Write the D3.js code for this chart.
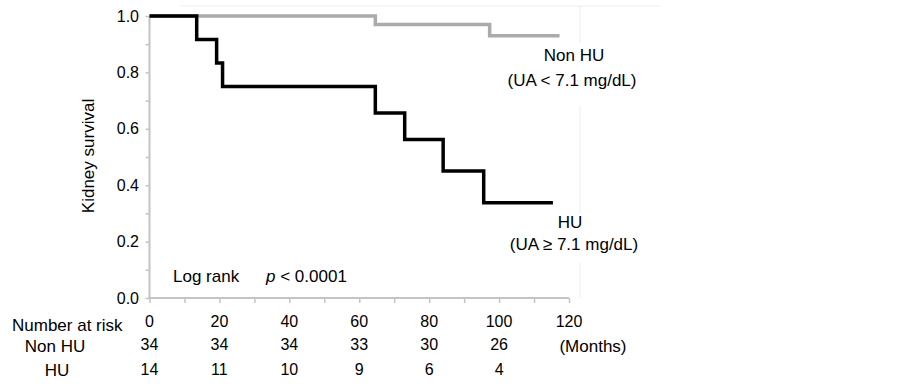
<!DOCTYPE html>
<html>
<head>
<meta charset="utf-8">
<script src="https://cdn.jsdelivr.net/npm/d3@7"></script>
<style>
  html, body { margin: 0; padding: 0; background: #fff; }
  svg { display: block; font-family: "Liberation Sans", Arial, sans-serif; }
</style>
</head>
<body>
<div class="km-container"></div>
<script>
// courbes de survie (mois, survie)
const huMonths = [0, 13.5, 19.2, 20.9, 64.6, 73.0, 84.0, 95.6, 115.4];
const huSurvival = [1.0, 0.917, 0.833, 0.75, 0.656, 0.5625, 0.45, 0.3375, 0.3375];
const nonHuMonths = [0, 64.6, 97.3, 117.3];
const nonHuSurvival = [1.0, 0.97, 0.93, 0.93];

// tableau "Number at risk"
const riskMonths = [0, 20, 40, 60, 80, 100];
const riskNonHu = [34, 34, 34, 33, 30, 26];
const riskHu = [14, 11, 10, 9, 6, 4];

const xTicks = [0, 20, 40, 60, 80, 100, 120];
const yTicks = [0, 0.2, 0.4, 0.6, 0.8, 1.0];

const width = 903, height = 388;
const axisColor = '#c4c4c4';

let svg = d3.select('.km-container')
    .append('svg')
    .attr('width', width)
    .attr('height', height);

// échelles
let x = d3.scaleLinear().domain([0, 120]).range([149.5, 569]);
let y = d3.scaleLinear().domain([0, 1]).range([298, 16]);

// lignes très pâles du cadre d'origine
svg.append('line')
    .attr('x1', 180).attr('x2', 660).attr('y1', 6).attr('y2', 6)
    .attr('stroke', '#f3f3f3').attr('stroke-width', 1.5);
[[6, 43], [105, 213], [263, 298]].forEach(([a, b]) => {
    svg.append('line')
        .attr('x1', 580).attr('x2', 580).attr('y1', a).attr('y2', b)
        .attr('stroke', '#f3f3f3').attr('stroke-width', 1.5);
});

// axe Y
let yAxis = svg.append('g')
    .attr('transform', `translate(${x(0)},0)`)
    .call(d3.axisLeft(y).ticks(10).tickSize(4).tickFormat(''));
yAxis.select('.domain').remove();
yAxis.selectAll('line').attr('stroke', axisColor).attr('stroke-width', 1.5);
yAxis.append('line')
    .attr('y1', y(1)).attr('y2', y(0) + 1)
    .attr('stroke', axisColor).attr('stroke-width', 2);

svg.append('g').selectAll('text')
    .data(yTicks)
    .enter()
    .append('text')
    .attr('x', 139)
    .attr('y', d => y(d) + 5.5)
    .attr('text-anchor', 'end')
    .attr('font-size', 16)
    .text(d => d.toFixed(1));

// axe X
let xAxis = svg.append('g')
    .attr('transform', `translate(0,${y(0)})`)
    .call(d3.axisBottom(x).ticks(12).tickSize(5).tickFormat(''));
xAxis.select('.domain').remove();
xAxis.selectAll('line').attr('stroke', axisColor).attr('stroke-width', 1.5);
xAxis.append('line')
    .attr('x1', x(0) - 1).attr('x2', x(120))
    .attr('stroke', axisColor).attr('stroke-width', 2);

svg.append('g').selectAll('text')
    .data(xTicks)
    .enter()
    .append('text')
    .attr('x', d => x(d))
    .attr('y', 327)
    .attr('text-anchor', 'middle')
    .attr('font-size', 16)
    .text(d => d);

// label axe Y
svg.append('text')
    .attr('transform', 'translate(94,156) rotate(-90)')
    .attr('text-anchor', 'middle')
    .attr('font-size', 17)
    .text('Kidney survival');

// courbes Kaplan-Meier
let line = d3.line()
    .x(d => x(d[0]))
    .y(d => y(d[1]))
    .curve(d3.curveStepAfter);

svg.append('path')
    .datum(d3.zip(nonHuMonths, nonHuSurvival))
    .attr('d', line)
    .attr('fill', 'none')
    .attr('stroke', '#ababab')
    .attr('stroke-width', 3.5);

svg.append('path')
    .datum(d3.zip(huMonths, huSurvival))
    .attr('d', line)
    .attr('fill', 'none')
    .attr('stroke', '#000')
    .attr('stroke-width', 3.5);

// étiquettes des groupes
const labels = [
    { t: 'Non HU', x: 574, y: 61 },
    { t: '(UA < 7.1 mg/dL)', x: 572, y: 86 },
    { t: 'HU', x: 570, y: 228 },
    { t: '(UA ≥ 7.1 mg/dL)', x: 574, y: 250 }
];
svg.append('g').selectAll('text')
    .data(labels)
    .enter()
    .append('text')
    .attr('x', d => d.x)
    .attr('y', d => d.y)
    .attr('text-anchor', 'middle')
    .attr('font-size', 17)
    .text(d => d.t);

// log rank
let lr = svg.append('text')
    .attr('x', 173)
    .attr('y', 282)
    .attr('font-size', 17);
lr.append('tspan').text('Log rank');
lr.append('tspan').attr('x', 266).attr('font-style', 'italic').text('p');
lr.append('tspan').text(' < 0.0001');

// tableau des patients à risque
svg.append('text')
    .attr('x', 12).attr('y', 331)
    .attr('font-size', 17)
    .text('Number at risk');
svg.append('text')
    .attr('x', 55).attr('y', 352)
    .attr('text-anchor', 'middle')
    .attr('font-size', 17)
    .text('Non HU');
svg.append('text')
    .attr('x', 57).attr('y', 376)
    .attr('text-anchor', 'middle')
    .attr('font-size', 17)
    .text('HU');

svg.append('g').selectAll('text')
    .data(d3.zip(riskMonths, riskNonHu))
    .enter()
    .append('text')
    .attr('x', d => x(d[0]))
    .attr('y', 350)
    .attr('text-anchor', 'middle')
    .attr('font-size', 16)
    .text(d => d[1]);

svg.append('g').selectAll('text')
    .data(d3.zip(riskMonths, riskHu))
    .enter()
    .append('text')
    .attr('x', d => x(d[0]))
    .attr('y', 375)
    .attr('text-anchor', 'middle')
    .attr('font-size', 16)
    .text(d => d[1]);

svg.append('text')
    .attr('x', 593).attr('y', 352)
    .attr('text-anchor', 'middle')
    .attr('font-size', 17)
    .text('(Months)');
</script>
</body>
</html>
